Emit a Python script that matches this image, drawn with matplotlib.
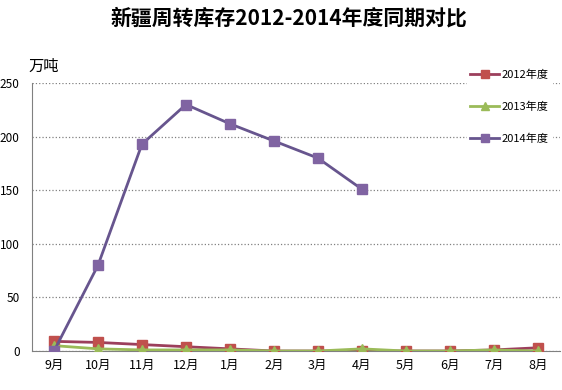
import matplotlib
matplotlib.use('Agg')
import matplotlib.pyplot as plt
import numpy as np

plt.rcParams['font.family'] = ['Noto Sans CJK SC', 'DejaVu Sans']

# data (万吨)
months = ['9月', '10月', '11月', '12月', '1月', '2月', '3月', '4月', '5月', '6月', '7月', '8月']
y2012 = [9, 8, 6, 4, 2, 0, 0, 0, 0, 0, 1, 3]
y2013 = [5, 2, 1, 1, 1, 0, 0, 2, 0, 0, 1, 0]
y2014 = [0, 80, 193, 230, 212, 196, 180, 151]
series_names = ['2012年度', '2013年度', '2014年度']

fig = plt.figure(figsize=(5.62, 3.90), dpi=100)
ax = fig.add_axes([0.057, 0.1, 0.939, 0.687])

x = np.arange(len(months))

ax.plot(x, y2012, color='#9C3F5C', linewidth=2, marker='s', markersize=7.5,
        markerfacecolor='#C0504D', markeredgecolor='#C0504D', label=series_names[0], zorder=3)
ax.plot(x, y2013, color='#9BBB59', linewidth=2, marker='^', markersize=7,
        markerfacecolor='#9BBB59', markeredgecolor='#9BBB59', label=series_names[1], zorder=4)
ax.plot(x[:len(y2014)], y2014, color='#67558E', linewidth=2, marker='s', markersize=7.5,
        markerfacecolor='#8064A2', markeredgecolor='#8064A2', label=series_names[2], zorder=5)

ax.set_xlim(-0.5, len(months) - 0.5)
ax.set_ylim(0, 250)
ax.set_yticks(range(0, 251, 50))
ax.set_xticks(x)
ax.set_xticklabels(months, fontsize=9)
ax.tick_params(axis='y', labelsize=8.5, length=0, pad=9)
ax.tick_params(axis='x', length=0, pad=6)

ax.yaxis.grid(True, linestyle=':', color='#808080', linewidth=0.9)
ax.set_axisbelow(True)
for side in ['top', 'right']:
    ax.spines[side].set_visible(False)
ax.spines['left'].set_color('#808080')
ax.spines['bottom'].set_color('#808080')

fig.text(0.515, 0.955, '新疆周转库存2012-2014年度同期对比', ha='center', va='center',
         fontsize=15, fontweight='bold')
fig.text(0.05, 0.83, '万吨', ha='left', va='center', fontsize=11)

leg = ax.legend(loc='upper right', bbox_to_anchor=(0.995, 1.085), fontsize=8, frameon=True,
                framealpha=1, edgecolor='white', handlelength=2.6, labelspacing=1.95,
                borderpad=0.3, handletextpad=0.2, markerscale=0.75)

fig.savefig('out.png', dpi=100)
